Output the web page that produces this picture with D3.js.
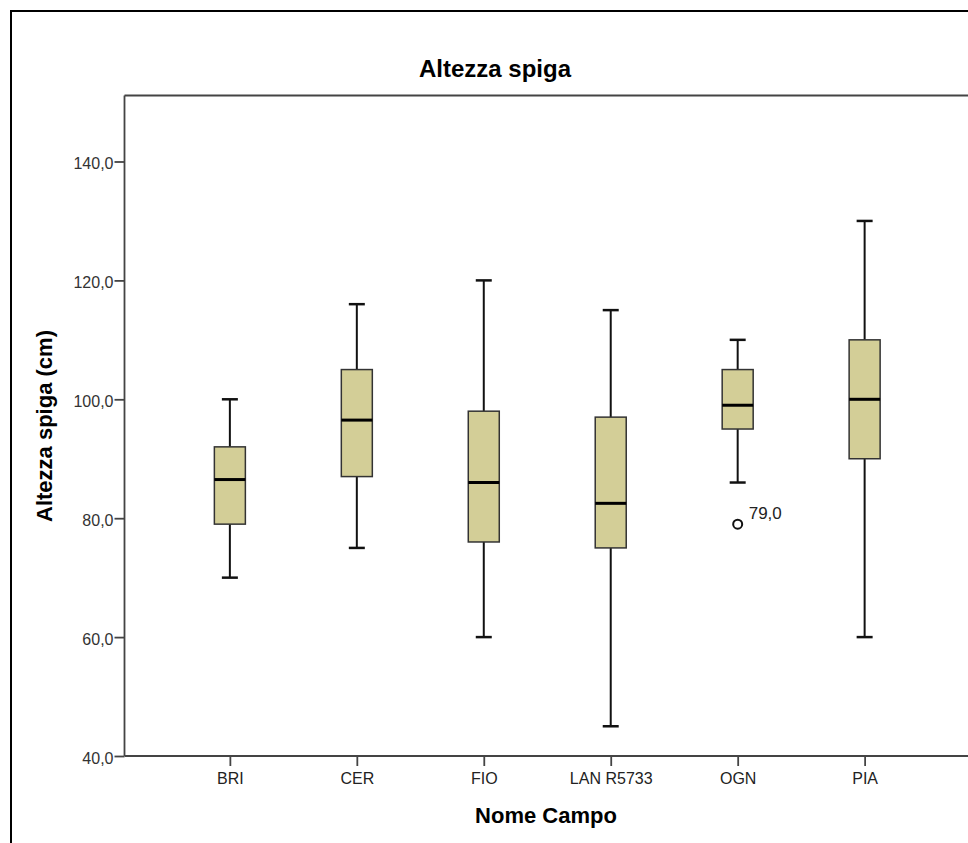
<!DOCTYPE html>
<html>
<head>
<meta charset="utf-8">
<script src="https://cdn.jsdelivr.net/npm/d3@7"></script>
<style>
  body { margin: 0; background: #fff; }
  svg { display: block; font-family: "Liberation Sans", Arial, sans-serif; }
</style>
</head>
<body>
<div id="container"></div>
<script>
const width = 968;
const height = 843;

// ---------------- data ----------------
const campi = ["BRI", "CER", "FIO", "LAN R5733", "OGN", "PIA"];
const minimo = [70, 75, 60, 45, 86, 60];
const q1 = [79, 87, 76, 75, 95, 90];
const mediana = [86.5, 96.5, 86, 82.5, 99, 100];
const q3 = [92, 105, 98, 97, 105, 110];
const massimo = [100, 116, 120, 115, 110, 130];
const outliers = [{ campo: "OGN", value: 79 }];
const yTicks = [40, 60, 80, 100, 120, 140];

const boxes = campi.map(function(c, i) {
  return { campo: c, min: minimo[i], q1: q1[i], med: mediana[i], q3: q3[i], max: massimo[i] };
});

const fmt = function(d) { return d3.format(".1f")(d).replace(".", ","); };

// ---------------- svg ----------------
const svg = d3.select("#container").append("svg")
  .attr("width", width)
  .attr("height", height);

// outer frame
svg.append("rect")
  .attr("x", 11).attr("y", 11)
  .attr("width", width + 20).attr("height", height + 20)
  .style("fill", "none")
  .style("stroke", "#000")
  .style("stroke-width", 2);

const plotLeft = 124.5, plotRight = 970, plotTop = 95.5, plotBottom = 756;

// ---------------- scales ----------------
const x = d3.scalePoint().domain(campi).range([plotLeft, plotRight]).padding(0.83);
const y = d3.scaleLinear().domain([40, 151.1]).range([plotBottom, plotTop]);

// plot frame (top line)
svg.append("line")
  .attr("x1", plotLeft).attr("x2", plotRight)
  .attr("y1", plotTop).attr("y2", plotTop)
  .style("stroke", "#444").style("stroke-width", 1.8);

// ---------------- axes ----------------
const yAxis = d3.axisLeft(y)
  .tickValues(yTicks)
  .tickSize(10)
  .tickPadding(1)
  .tickFormat(fmt);

const gy = svg.append("g")
  .attr("transform", "translate(" + plotLeft + ",0)")
  .call(yAxis);
gy.select(".domain").attr("d", "M0," + plotBottom + "V" + plotTop).style("stroke", "#444").style("stroke-width", 1.8);
gy.selectAll(".tick line").style("stroke", "#444").style("stroke-width", 1.8);
gy.selectAll(".tick text")
  .attr("dy", "0.45em")
  .style("font-size", "16px").style("fill", "#333")
  .style("font-family", "Liberation Sans, Arial, sans-serif");

const xAxis = d3.axisBottom(x).tickSize(10).tickPadding(7);
const gx = svg.append("g")
  .attr("transform", "translate(0," + plotBottom + ")")
  .call(xAxis);
gx.select(".domain").attr("d", "M" + plotLeft + ",0H" + plotRight).style("stroke", "#444").style("stroke-width", 1.8);
gx.selectAll(".tick line").style("stroke", "#444").style("stroke-width", 1.8);
gx.selectAll(".tick text")
  .style("font-size", "16px").style("fill", "#222")
  .style("font-family", "Liberation Sans, Arial, sans-serif");

// ---------------- boxes ----------------
const boxW = 31, capW = 16;
const g = svg.selectAll("g.box")
  .data(boxes)
  .enter()
  .append("g")
  .attr("class", "box");

// whiskers
g.append("line")
  .attr("x1", function(d) { return x(d.campo); })
  .attr("x2", function(d) { return x(d.campo); })
  .attr("y1", function(d) { return y(d.max); })
  .attr("y2", function(d) { return y(d.q3); })
  .style("stroke", "#111").style("stroke-width", 2);
g.append("line")
  .attr("x1", function(d) { return x(d.campo); })
  .attr("x2", function(d) { return x(d.campo); })
  .attr("y1", function(d) { return y(d.q1); })
  .attr("y2", function(d) { return y(d.min); })
  .style("stroke", "#111").style("stroke-width", 2);
// caps
g.append("line")
  .attr("x1", function(d) { return x(d.campo) - capW / 2; })
  .attr("x2", function(d) { return x(d.campo) + capW / 2; })
  .attr("y1", function(d) { return y(d.max); })
  .attr("y2", function(d) { return y(d.max); })
  .style("stroke", "#111").style("stroke-width", 2.5);
g.append("line")
  .attr("x1", function(d) { return x(d.campo) - capW / 2; })
  .attr("x2", function(d) { return x(d.campo) + capW / 2; })
  .attr("y1", function(d) { return y(d.min); })
  .attr("y2", function(d) { return y(d.min); })
  .style("stroke", "#111").style("stroke-width", 2.5);
// box
g.append("rect")
  .attr("x", function(d) { return x(d.campo) - boxW / 2; })
  .attr("y", function(d) { return y(d.q3); })
  .attr("width", boxW)
  .attr("height", function(d) { return y(d.q1) - y(d.q3); })
  .style("fill", "#d3ce97")
  .style("stroke", "#333")
  .style("stroke-width", 1.5);
// median
g.append("line")
  .attr("x1", function(d) { return x(d.campo) - boxW / 2; })
  .attr("x2", function(d) { return x(d.campo) + boxW / 2; })
  .attr("y1", function(d) { return y(d.med); })
  .attr("y2", function(d) { return y(d.med); })
  .style("stroke", "#000").style("stroke-width", 3);

// outliers
svg.selectAll("circle.out")
  .data(outliers)
  .enter()
  .append("circle")
  .attr("class", "out")
  .attr("cx", function(d) { return x(d.campo); })
  .attr("cy", function(d) { return y(d.value); })
  .attr("r", 4.5)
  .style("fill", "#fff")
  .style("stroke", "#111")
  .style("stroke-width", 2);
svg.selectAll("text.out")
  .data(outliers)
  .enter()
  .append("text")
  .attr("class", "out")
  .attr("x", function(d) { return x(d.campo) + 11; })
  .attr("y", function(d) { return y(d.value) - 5; })
  .style("font-size", "17px")
  .style("fill", "#222")
  .text(function(d) { return fmt(d.value); });

// ---------------- titles ----------------
svg.append("text")
  .attr("x", 495).attr("y", 77)
  .attr("text-anchor", "middle")
  .style("font-size", "24px").style("font-weight", "bold")
  .text("Altezza spiga");

svg.append("text")
  .attr("x", 546).attr("y", 823)
  .attr("text-anchor", "middle")
  .style("font-size", "22px").style("font-weight", "bold")
  .text("Nome Campo");

svg.append("text")
  .attr("transform", "translate(52,426) rotate(-90)")
  .attr("text-anchor", "middle")
  .style("font-size", "22px").style("font-weight", "bold")
  .text("Altezza spiga (cm)");
</script>
</body>
</html>
